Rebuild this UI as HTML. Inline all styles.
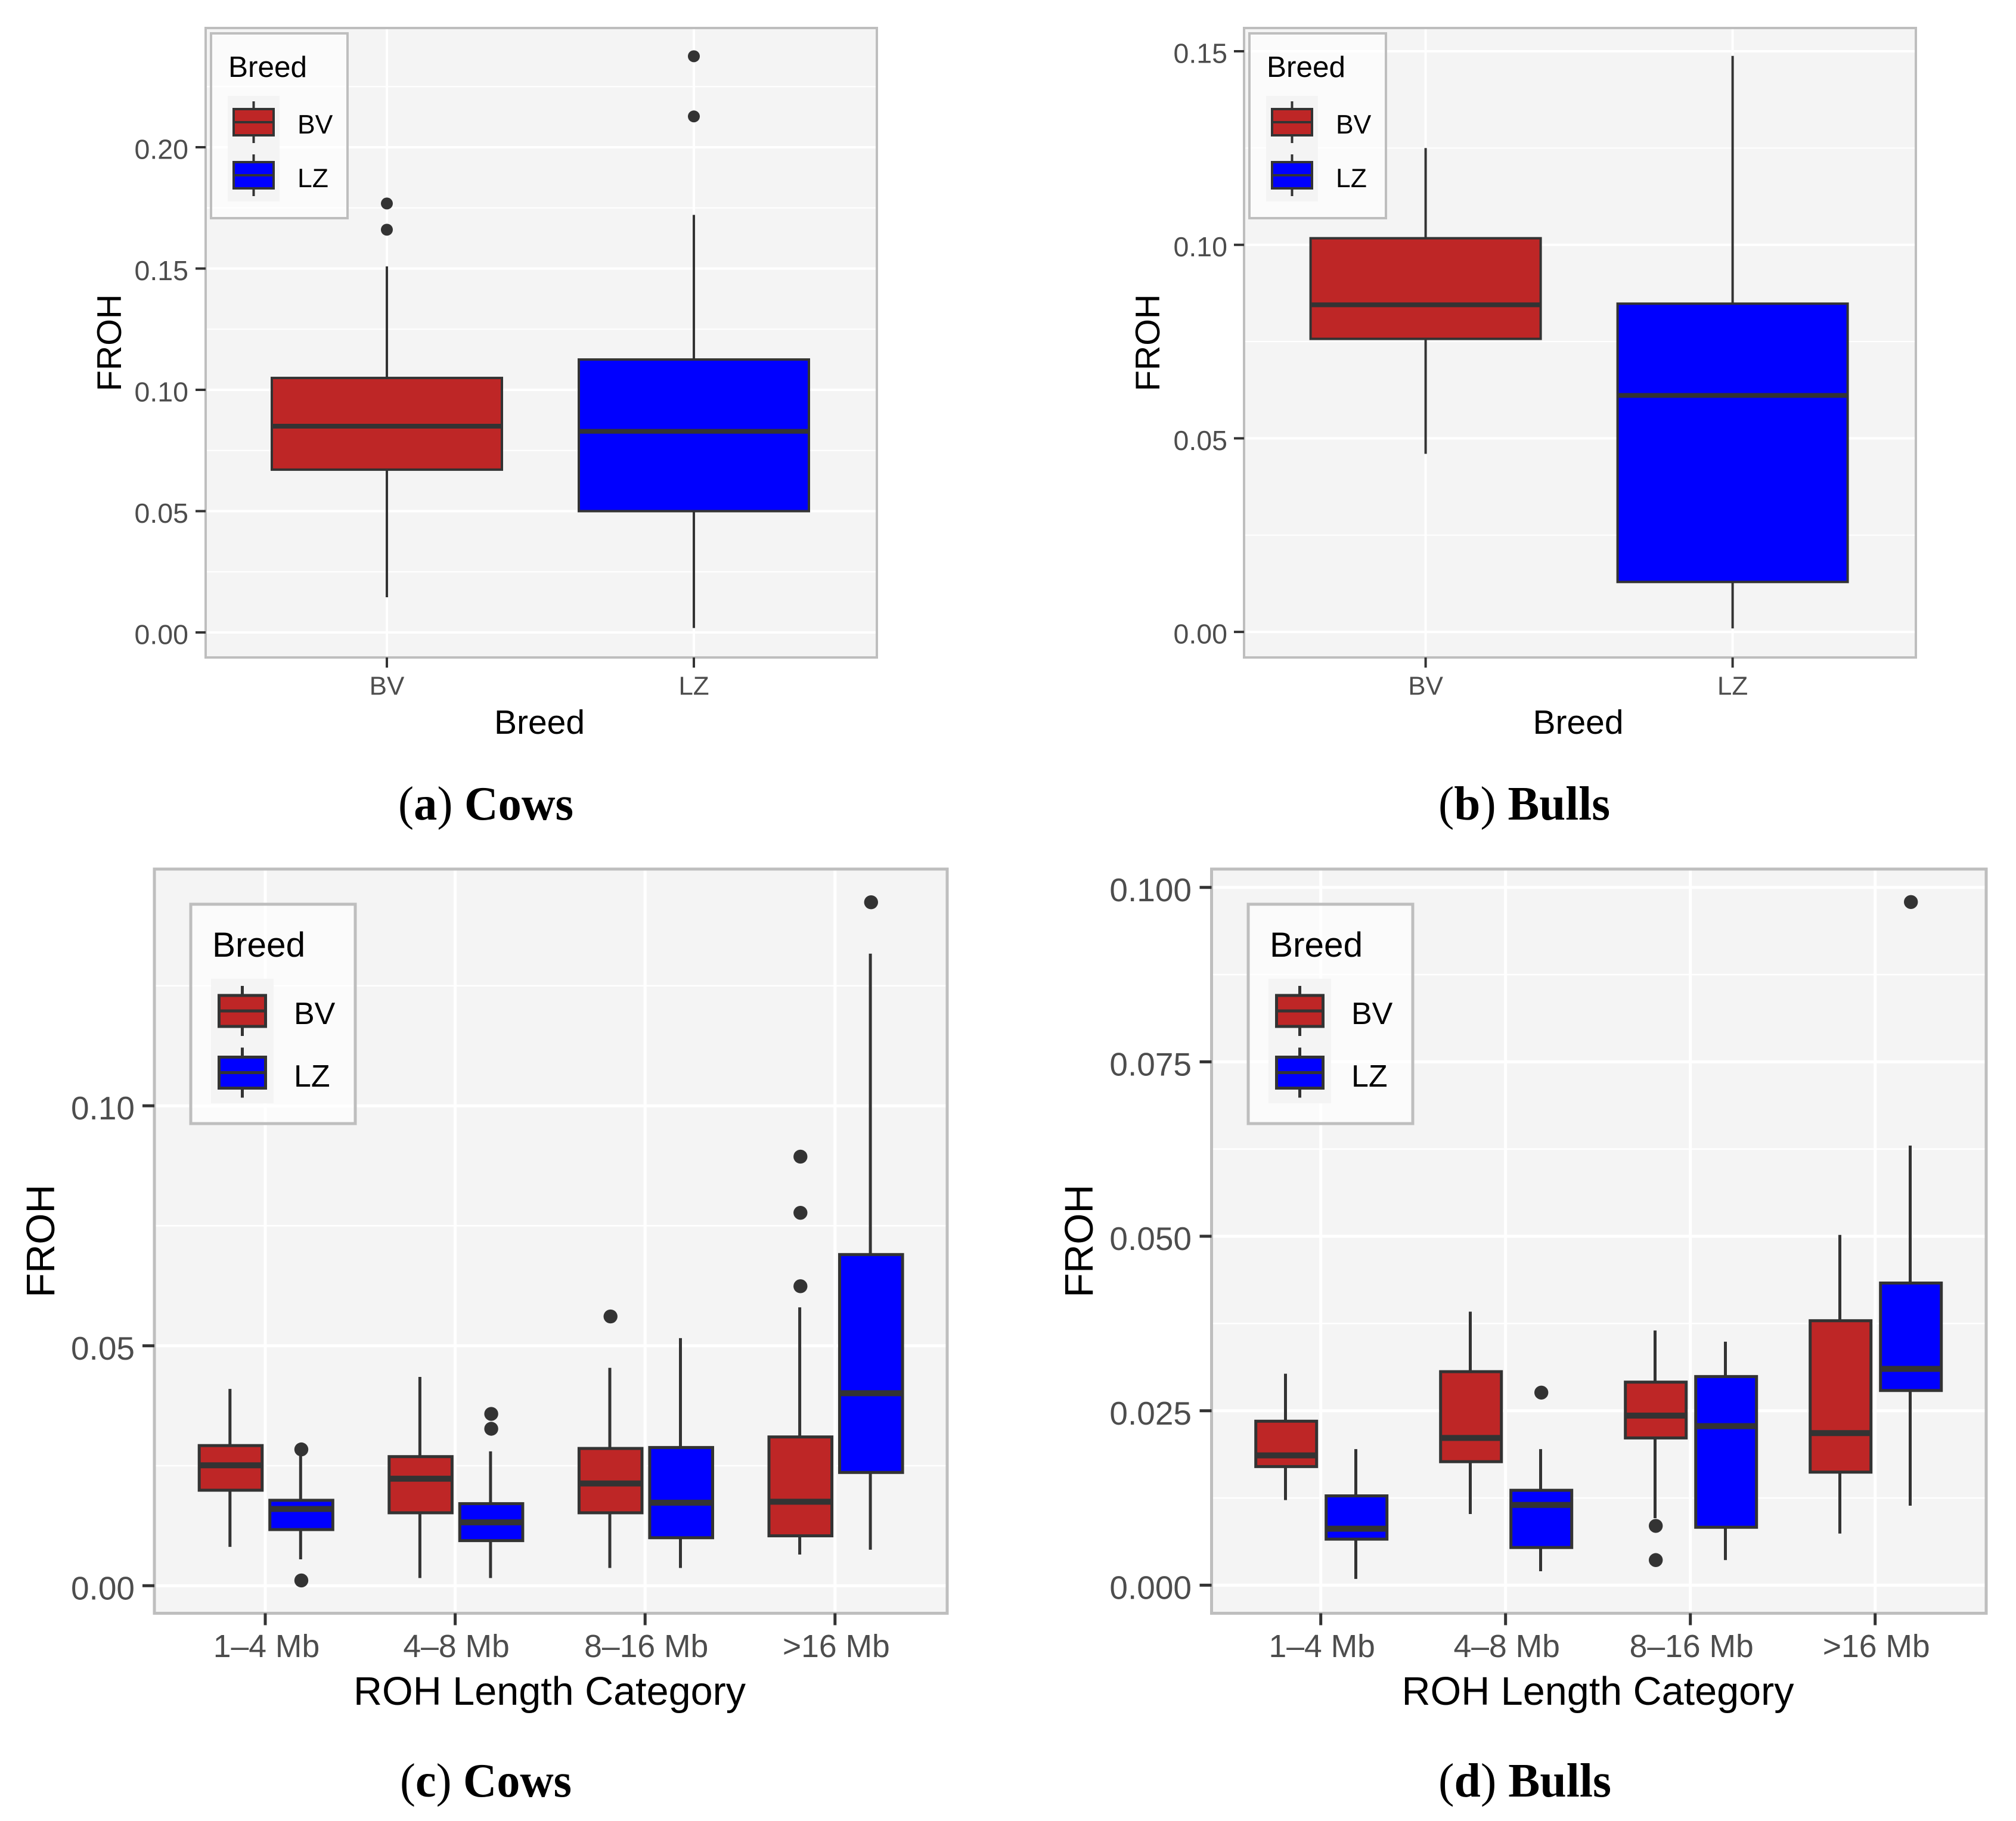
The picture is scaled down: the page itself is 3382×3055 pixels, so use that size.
<!DOCTYPE html>
<html lang="en">
<head>
<meta charset="utf-8">
<title>FROH boxplots by breed and ROH length category</title>
<style>
html,body{margin:0;padding:0;background:#fff;}
body{width:3382px;height:3055px;overflow:hidden;}
svg{display:block;}
text{font-family:"Liberation Sans",Arial,sans-serif;}
text.serif{font-family:"Liberation Serif","Times New Roman",serif;}
</style>
</head>
<body>
<svg id="figure" xmlns="http://www.w3.org/2000/svg" width="3382" height="3055" viewBox="0 0 3382 3055"></svg>
<script>
// ---------- Data: panel (a) Cows by breed ----------
const aCategories = ['BV', 'LZ'];
const aTicks = [0, 0.05, 0.10, 0.15, 0.20];
const aTickLabels = ['0.00', '0.05', '0.10', '0.15', '0.20'];
const aMinorTicks = [0.025, 0.075, 0.125, 0.175, 0.225];
const aLow = [0.0145, 0.0018];
const aQ1 = [0.0671, 0.0500];
const aMedian = [0.0850, 0.0829];
const aQ3 = [0.1049, 0.1125];
const aHigh = [0.1509, 0.1721];
const aOutliers = [[0.1660, 0.1768], [0.2127, 0.2375]];

// ---------- Data: panel (b) Bulls by breed ----------
const bCategories = ['BV', 'LZ'];
const bTicks = [0, 0.05, 0.10, 0.15];
const bTickLabels = ['0.00', '0.05', '0.10', '0.15'];
const bMinorTicks = [0.025, 0.075, 0.125];
const bLow = [0.0460, 0.0009];
const bQ1 = [0.0757, 0.0129];
const bMedian = [0.0845, 0.0611];
const bQ3 = [0.1017, 0.0848];
const bHigh = [0.1250, 0.1488];
const bOutliers = [[], []];

// ---------- Data: panel (c) Cows by ROH length ----------
const cCategories = ['1–4 Mb', '4–8 Mb', '8–16 Mb', '>16 Mb'];
const cTicks = [0, 0.05, 0.10];
const cTickLabels = ['0.00', '0.05', '0.10'];
const cMinorTicks = [0.025, 0.075, 0.125];
const cBvLow = [0.0081, 0.0016, 0.0037, 0.0065];
const cBvQ1 = [0.0199, 0.0152, 0.0152, 0.0104];
const cBvMedian = [0.0251, 0.0223, 0.0213, 0.0175];
const cBvQ3 = [0.0292, 0.0269, 0.0286, 0.0310];
const cBvHigh = [0.0410, 0.0435, 0.0454, 0.0580];
const cBvOutliers = [[], [], [0.0561], [0.0624, 0.0777, 0.0894]];
const cLzLow = [0.0055, 0.0016, 0.0037, 0.0075];
const cLzQ1 = [0.0117, 0.0094, 0.0100, 0.0236];
const cLzMedian = [0.0160, 0.0132, 0.0173, 0.0401];
const cLzQ3 = [0.0178, 0.0171, 0.0288, 0.0690];
const cLzHigh = [0.0275, 0.0280, 0.0516, 0.1317];
const cLzOutliers = [[0.0011, 0.0284], [0.0327, 0.0358], [], [0.1424]];

// ---------- Data: panel (d) Bulls by ROH length ----------
const dCategories = ['1–4 Mb', '4–8 Mb', '8–16 Mb', '>16 Mb'];
const dTicks = [0, 0.025, 0.050, 0.075, 0.100];
const dTickLabels = ['0.000', '0.025', '0.050', '0.075', '0.100'];
const dMinorTicks = [0.0125, 0.0375, 0.0625, 0.0875];
const dBvLow = [0.0122, 0.0102, 0.0096, 0.0074];
const dBvQ1 = [0.0170, 0.0177, 0.0211, 0.0162];
const dBvMedian = [0.0186, 0.0211, 0.0243, 0.0218];
const dBvQ3 = [0.0235, 0.0306, 0.0291, 0.0379];
const dBvHigh = [0.0303, 0.0392, 0.0365, 0.0502];
const dBvOutliers = [[], [], [0.0036, 0.0085], []];
const dLzLow = [0.0009, 0.0020, 0.0036, 0.0114];
const dLzQ1 = [0.0066, 0.0054, 0.0083, 0.0279];
const dLzMedian = [0.0081, 0.0115, 0.0228, 0.0310];
const dLzQ3 = [0.0128, 0.0136, 0.0299, 0.0433];
const dLzHigh = [0.0195, 0.0195, 0.0349, 0.0630];
const dLzOutliers = [[], [0.0276], [], [0.0979]];

// ---------- Drawing ----------
const NS = 'http://www.w3.org/2000/svg';
const root = document.getElementById('figure');
const INK = '#333333', RED = '#be2626', BLUE = '#0000ff', BORDER = '#bebebe';

function make(parent, tag, attrs, text) {
  const el = document.createElementNS(NS, tag);
  for (const k in attrs) el.setAttribute(k, attrs[k]);
  if (text !== undefined) el.textContent = text;
  parent.appendChild(el);
  return el;
}
function named(el, name) {
  
  
  return el;
}

function drawBox(g, name, cx, halfW, y, low, q1, med, q3, high, outs, fill, st) {
  const box = named(make(g, 'g', {}), name);
  const wx = cx + st.whiskerShift;
  named(make(box, 'line', {x1: wx, x2: wx, y1: y(q3), y2: y(high), stroke: INK, 'stroke-width': st.line}), name + '-upper-whisker');
  named(make(box, 'line', {x1: wx, x2: wx, y1: y(q1), y2: y(low), stroke: INK, 'stroke-width': st.line}), name + '-lower-whisker');
  named(make(box, 'rect', {x: cx - halfW, width: 2 * halfW, y: y(q3), height: y(q1) - y(q3), fill: fill, stroke: INK, 'stroke-width': st.line}), name + '-iqr-box');
  named(make(box, 'line', {x1: cx - halfW, x2: cx + halfW, y1: y(med), y2: y(med), stroke: INK, 'stroke-width': st.line * 2}), name + '-median');
  outs.forEach(function (v) {
    named(make(box, 'circle', {cx: cx, cy: y(v), r: st.dot, fill: INK}), name + '-outlier');
  });
}

function drawLegend(g, L, st) {
  const lg = named(make(g, 'g', {}), 'legend');
  named(make(lg, 'rect', {x: L.x, y: L.y, width: L.w, height: L.h, fill: '#ffffff', 'fill-opacity': 0.66, stroke: BORDER, 'stroke-width': st.line}), 'legend-background');
  named(make(lg, 'text', {x: L.titleX, y: L.titleY, 'font-size': L.titleSize, fill: '#000'}, 'Breed'), 'legend-title');
  named(make(lg, 'rect', {x: L.keyX, y: L.keyY, width: L.keyW, height: L.keyH, fill: '#f4f4f4'}), 'legend-key-background');
  const entries = [['BV', RED, L.box1Y, L.label1Y], ['LZ', BLUE, L.box2Y, L.label2Y]];
  entries.forEach(function (e) {
    const item = named(make(lg, 'g', {}), 'legend-entry-' + e[0].toLowerCase());
    const mid = L.boxX + L.boxW / 2;
    named(make(item, 'line', {x1: mid, x2: mid, y1: e[2] - L.whisk, y2: e[2] + L.boxH + L.whisk, stroke: INK, 'stroke-width': st.line}), 'legend-whisker');
    named(make(item, 'rect', {x: L.boxX, y: e[2], width: L.boxW, height: L.boxH, fill: e[1], stroke: INK, 'stroke-width': st.line}), 'legend-swatch');
    named(make(item, 'line', {x1: L.boxX, x2: L.boxX + L.boxW, y1: e[2] + L.boxH / 2, y2: e[2] + L.boxH / 2, stroke: INK, 'stroke-width': st.line}), 'legend-median');
    named(make(item, 'text', {x: L.labelX, y: e[3], 'font-size': L.labelSize, fill: '#000'}, e[0]), 'legend-label');
  });
}

function drawPanel(p) {
  const g = named(make(root, 'g', {}), p.id);
  const y = function (v) { return p.zeroY - v * p.unit; };
  const x = function (i) { return p.firstX + i * p.stepX; };
  const st = p.st;

  named(make(g, 'rect', {x: p.left, y: p.top, width: p.right - p.left, height: p.bottom - p.top, fill: '#f4f4f4'}), 'panel-background');

  const grid = named(make(g, 'g', {}), 'gridlines');
  p.minor.forEach(function (v) {
    named(make(grid, 'line', {x1: p.left, x2: p.right, y1: y(v), y2: y(v), stroke: '#fff', 'stroke-width': st.minor}), 'minor-gridline');
  });
  p.ticks.forEach(function (v) {
    named(make(grid, 'line', {x1: p.left, x2: p.right, y1: y(v), y2: y(v), stroke: '#fff', 'stroke-width': st.major}), 'major-gridline-y');
  });
  p.categories.forEach(function (c, i) {
    named(make(grid, 'line', {x1: x(i), x2: x(i), y1: p.top, y2: p.bottom, stroke: '#fff', 'stroke-width': st.major}), 'major-gridline-x');
  });

  const marks = named(make(g, 'g', {}), 'boxplots');
  p.series.forEach(function (s) {
    p.categories.forEach(function (c, i) {
      const cx = x(i) + s.offset;
      drawBox(marks, 'box-' + s.key + (s.key ? '-' : '') + c.replace(/[^0-9A-Za-z]+/g, '-').toLowerCase(), cx, p.halfW, y,
        s.low[i], s.q1[i], s.median[i], s.q3[i], s.high[i], s.outliers[i], s.fill ? s.fill : p.fills[i], st);
    });
  });

  drawLegend(g, p.legend, st);

  named(make(g, 'rect', {x: p.left, y: p.top, width: p.right - p.left, height: p.bottom - p.top, fill: 'none', stroke: BORDER, 'stroke-width': st.border}), 'panel-border');

  const yAxis = named(make(g, 'g', {}), 'y-axis');
  p.ticks.forEach(function (v, i) {
    named(make(yAxis, 'line', {x1: p.left - st.tick, x2: p.left, y1: y(v), y2: y(v), stroke: INK, 'stroke-width': st.line}), 'y-tick');
    named(make(yAxis, 'text', {x: p.yLabelX, y: y(v) + p.tickSize * 0.42, 'text-anchor': 'end', 'font-size': p.tickSize, fill: '#4d4d4d'}, p.tickLabels[i]), 'y-tick-label');
  });
  named(make(yAxis, 'text', {transform: 'translate(' + p.yTitleX + ' ' + p.yTitleY + ') rotate(-90)', 'text-anchor': 'middle', 'font-size': p.titleSize, fill: '#000'}, 'FROH'), 'y-axis-title');

  const xAxis = named(make(g, 'g', {}), 'x-axis');
  p.categories.forEach(function (c, i) {
    named(make(xAxis, 'line', {x1: x(i), x2: x(i), y1: p.bottom, y2: p.bottom + st.tick, stroke: INK, 'stroke-width': st.line}), 'x-tick');
    named(make(xAxis, 'text', {x: x(i) + p.xLabelShift, y: p.xLabelY, 'text-anchor': 'middle', 'font-size': p.xTickSize, fill: '#4d4d4d'}, c), 'x-tick-label');
  });
  named(make(xAxis, 'text', {x: p.xTitleX, y: p.xTitleY, 'text-anchor': 'middle', 'font-size': p.xTitleSize, fill: '#000'}, p.xTitle), 'x-axis-title');

  const cap = named(make(g, 'text', {class: 'serif', x: p.capX, y: p.capY, 'font-size': 80, textLength: p.capW, lengthAdjust: 'spacingAndGlyphs', fill: '#000'}), 'panel-caption');
  make(cap, 'tspan', {}, '(');
  make(cap, 'tspan', {'font-weight': 'bold'}, p.capLetter);
  make(cap, 'tspan', {}, ') ');
  make(cap, 'tspan', {'font-weight': 'bold'}, p.capWord);
}

const topStyle = {line: 4, major: 4, minor: 2, border: 4, tick: 17, dot: 10, whiskerShift: 0};
const lowStyle = {line: 5, major: 5, minor: 2.5, border: 5, tick: 20, dot: 11.7, whiskerShift: -1.2};

function topLegend(dx) {
  return {x: 354 + dx, y: 56, w: 229, h: 310, titleX: 383 + dx, titleY: 129, titleSize: 49.5,
    keyX: 382 + dx, keyY: 161, keyW: 87, keyH: 177, boxX: 392 + dx, boxW: 67, box1Y: 183, box2Y: 272, boxH: 44, whisk: 13,
    labelX: 499 + dx, label1Y: 224, label2Y: 314, labelSize: 44.5};
}
function lowLegend(dx) {
  return {x: 320 + dx, y: 1517, w: 276, h: 368, titleX: 356 + dx, titleY: 1605, titleSize: 58.5,
    keyX: 354 + dx, keyY: 1642, keyW: 105, keyH: 209, boxX: 367.5 + dx, boxW: 78, box1Y: 1670, box2Y: 1773.5, boxH: 52, whisk: 16,
    labelX: 493 + dx, label1Y: 1718, label2Y: 1823, labelSize: 52};
}

drawPanel({
  id: 'panel-a-cows-breed', st: topStyle, left: 345, right: 1471, top: 47, bottom: 1103,
  zeroY: 1061, unit: 4070, firstX: 649, stepX: 515, halfW: 193,
  categories: aCategories, ticks: aTicks, tickLabels: aTickLabels, minor: aMinorTicks, fills: [RED, BLUE],
  series: [{key: '', offset: 0, low: aLow, q1: aQ1, median: aMedian, q3: aQ3, high: aHigh, outliers: aOutliers}],
  legend: topLegend(0), yLabelX: 316, tickSize: 46.5, titleSize: 57.5, xTickSize: 44, xTitleSize: 57, xLabelShift: 0,
  yTitleX: 203, yTitleY: 575, xLabelY: 1165.5, xTitle: 'Breed', xTitleX: 905, xTitleY: 1231,
  capX: 668, capY: 1375, capW: 294, capLetter: 'a', capWord: 'Cows'
});
drawPanel({
  id: 'panel-b-bulls-breed', st: topStyle, left: 2087, right: 3214, top: 47, bottom: 1103,
  zeroY: 1060.1, unit: 6494, firstX: 2391.6, stepX: 515, halfW: 193,
  categories: bCategories, ticks: bTicks, tickLabels: bTickLabels, minor: bMinorTicks, fills: [RED, BLUE],
  series: [{key: '', offset: 0, low: bLow, q1: bQ1, median: bMedian, q3: bQ3, high: bHigh, outliers: bOutliers}],
  legend: topLegend(1742), yLabelX: 2059, tickSize: 46.5, titleSize: 57.5, xTickSize: 44, xTitleSize: 57, xLabelShift: 0,
  yTitleX: 1945, yTitleY: 575, xLabelY: 1165.5, xTitle: 'Breed', xTitleX: 2647.5, xTitleY: 1231,
  capX: 2413, capY: 1375, capW: 288, capLetter: 'b', capWord: 'Bulls'
});
drawPanel({
  id: 'panel-c-cows-length', st: lowStyle, left: 259, right: 1589, top: 1458, bottom: 2706.5,
  zeroY: 2660.3, unit: 8052, firstX: 445, stepX: 318.6, halfW: 52.8,
  categories: cCategories, ticks: cTicks, tickLabels: cTickLabels, minor: cMinorTicks,
  series: [
    {key: 'bv', fill: RED, offset: -58, low: cBvLow, q1: cBvQ1, median: cBvMedian, q3: cBvQ3, high: cBvHigh, outliers: cBvOutliers},
    {key: 'lz', fill: BLUE, offset: 60.5, low: cLzLow, q1: cLzQ1, median: cLzMedian, q3: cLzQ3, high: cLzHigh, outliers: cLzOutliers}
  ],
  legend: lowLegend(0), yLabelX: 226, tickSize: 55, titleSize: 67, xTickSize: 53.5, xTitleSize: 66.5, xLabelShift: 2,
  yTitleX: 91, yTitleY: 2082, xLabelY: 2780, xTitle: 'ROH Length Category', xTitleX: 922, xTitleY: 2860,
  capX: 671, capY: 3014, capW: 288, capLetter: 'c', capWord: 'Cows'
});
drawPanel({
  id: 'panel-d-bulls-length', st: lowStyle, left: 2032.5, right: 3332, top: 1458, bottom: 2706.5,
  zeroY: 2659.4, unit: 11707, firstX: 2215.7, stepX: 310, halfW: 51,
  categories: dCategories, ticks: dTicks, tickLabels: dTickLabels, minor: dMinorTicks,
  series: [
    {key: 'bv', fill: RED, offset: -58, low: dBvLow, q1: dBvQ1, median: dBvMedian, q3: dBvQ3, high: dBvHigh, outliers: dBvOutliers},
    {key: 'lz', fill: BLUE, offset: 60, low: dLzLow, q1: dLzQ1, median: dLzMedian, q3: dLzQ3, high: dLzHigh, outliers: dLzOutliers}
  ],
  legend: lowLegend(1774), yLabelX: 1999, tickSize: 55, titleSize: 67, xTickSize: 53.5, xTitleSize: 66.5, xLabelShift: 2,
  yTitleX: 1833, yTitleY: 2082, xLabelY: 2780, xTitle: 'ROH Length Category', xTitleX: 2680.5, xTitleY: 2860,
  capX: 2413, capY: 3014, capW: 290, capLetter: 'd', capWord: 'Bulls'
});
</script>
</body>
</html>
